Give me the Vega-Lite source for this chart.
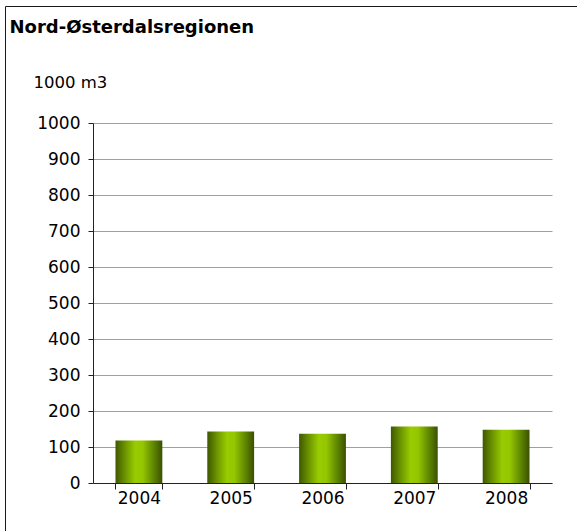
{
  "$schema": "https://vega.github.io/schema/vega-lite/v6.json",
  "width": 574,
  "height": 527,
  "autosize": {"type": "none"},
  "padding": {"left": 5, "top": 6, "right": -2, "bottom": -2},
  "background": "white",
  "config": {
    "view": {"stroke": "#1a1a1a", "strokeWidth": 1},
    "font": "DejaVu Sans"
  },
  "data": {
    "values": [
      {"year": "2004", "volume": 118},
      {"year": "2005", "volume": 143},
      {"year": "2006", "volume": 137},
      {"year": "2007", "volume": 157},
      {"year": "2008", "volume": 148}
    ]
  },
  "mark": {
    "type": "bar",
    "color": {
      "gradient": "linear",
      "x1": 0, "x2": 1, "y1": 0, "y2": 0,
      "stops": [
        {"offset": 0, "color": "#3e5800"},
        {"offset": 0.2, "color": "#6a9200"},
        {"offset": 0.42, "color": "#99cc00"},
        {"offset": 0.58, "color": "#95c600"},
        {"offset": 0.8, "color": "#628a00"},
        {"offset": 1, "color": "#3a5000"}
      ]
    }
  },
  "encoding": {
    "x": {
      "field": "year",
      "type": "ordinal",
      "scale": {"range": [88, 547], "paddingInner": 0.49, "paddingOuter": 0.245},
      "axis": {
        "title": "Nord-Østerdalsregionen",
        "titleAnchor": "start",
        "titleAlign": "left",
        "titleBaseline": "alphabetic",
        "titleX": 4,
        "titleY": -451,
        "titleFont": "DejaVu Sans",
        "titleFontSize": 18,
        "titleFontWeight": "bold",
        "titleColor": "#000",
        "orient": "bottom",
        "offset": -50,
        "labelAngle": 0,
        "labelFont": "DejaVu Sans",
        "labelFontSize": 17,
        "labelColor": "#000",
        "labelPadding": 1,
        "tickBand": "extent",
        "tickSize": 6,
        "tickColor": "#222",
        "domainColor": "#222",
        "grid": false
      }
    },
    "y": {
      "field": "volume",
      "type": "quantitative",
      "scale": {"domain": [0, 1000], "range": [477, 117], "nice": false, "zero": true},
      "axis": {
        "title": "1000 m3",
        "titleAngle": 0,
        "titleAlign": "left",
        "titleBaseline": "alphabetic",
        "titleX": -60,
        "titleY": 81,
        "titleFont": "DejaVu Sans",
        "titleFontSize": 16.5,
        "titleFontWeight": "normal",
        "titleColor": "#000",
        "offset": -88,
        "values": [0, 100, 200, 300, 400, 500, 600, 700, 800, 900, 1000],
        "format": "d",
        "labelFont": "DejaVu Sans",
        "labelFontSize": 17,
        "labelColor": "#000",
        "labelPadding": 8,
        "tickSize": 5,
        "tickColor": "#222",
        "domainColor": "#222",
        "grid": true,
        "gridColor": "#a0a0a0",
        "gridWidth": 1
      }
    }
  }
}
